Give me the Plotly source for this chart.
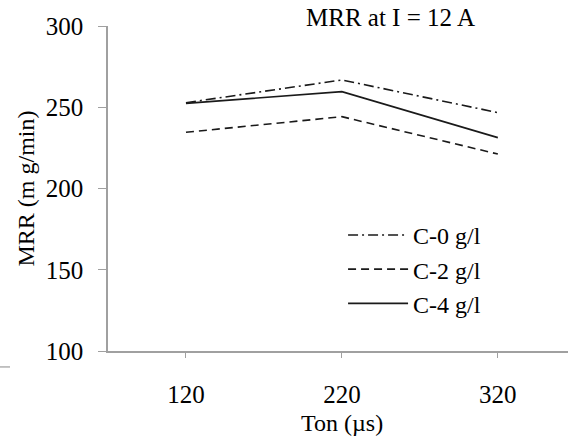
import plotly.graph_objects as go

categories = ["120", "220", "320"]
series_names = ["C-0 g/l", "C-2 g/l", "C-4 g/l"]
mrr_c0 = [252.8, 266.8, 246.7]
mrr_c2 = [234.6, 244.2, 221.2]
mrr_c4 = [252.4, 259.6, 231.3]
y_ticks = [100, 150, 200, 250, 300]

FONT = "Liberation Serif"
dashes = ["10px,4px,2px,4px", "8px,5px", "solid"]
values = [mrr_c0, mrr_c2, mrr_c4]

fig = go.Figure()
for name, vals, d in zip(series_names, values, dashes):
    fig.add_trace(go.Scatter(
        x=list(range(len(categories))), y=vals, name=name, mode="lines",
        line=dict(color="#1a1a1a", width=1.6, dash=d),
    ))

fig.update_layout(
    width=568, height=441,
    margin=dict(l=108, r=0, t=26, b=90),
    paper_bgcolor="white", plot_bgcolor="white",
    font=dict(family=FONT, size=24, color="black"),
    showlegend=True,
    legend=dict(x=0.511, y=0.425, xanchor="left", yanchor="top",
                bgcolor="rgba(0,0,0,0)", font=dict(family=FONT, size=24),
                tracegroupgap=0, itemwidth=60),
    annotations=[
        dict(text="MRR at I = 12 A", xref="paper", yref="paper",
             x=0.615, y=1.025, xanchor="center", yanchor="middle",
             showarrow=False, font=dict(family=FONT, size=25)),
        dict(text="Ton (µs)", xref="x", yref="paper",
             x=1, y=-0.222, xanchor="center", yanchor="middle",
             showarrow=False, font=dict(family=FONT, size=24)),
    ],
)
fig.update_xaxes(
    range=[-0.5, 2.45], tickvals=list(range(len(categories))), ticktext=categories,
    showline=True, linecolor="#a0a0a0", linewidth=1.5, ticks="outside",
    ticklen=5, tickcolor="#a0a0a0", showgrid=False, zeroline=False,
    tickfont=dict(family=FONT, size=25), ticklabelstandoff=15,
)
fig.update_yaxes(
    range=[100, 300], tickvals=y_ticks,
    showline=True, linecolor="#a0a0a0", linewidth=1.5, ticks="outside",
    ticklen=8, tickcolor="#a0a0a0", showgrid=False, zeroline=False,
    tickfont=dict(family=FONT, size=25), ticklabelstandoff=10,
    title=dict(text="MRR (m g/min)", font=dict(family=FONT, size=24), standoff=4),
)
fig.add_shape(type="line", xref="paper", yref="paper", x0=-0.235, x1=-0.213,
              y0=-0.049, y1=-0.049, line=dict(color="#b0b0b0", width=1.5))

fig.write_html("out.html", config={"displayModeBar": False},
               post_script="document.body.style.margin='0px';")
